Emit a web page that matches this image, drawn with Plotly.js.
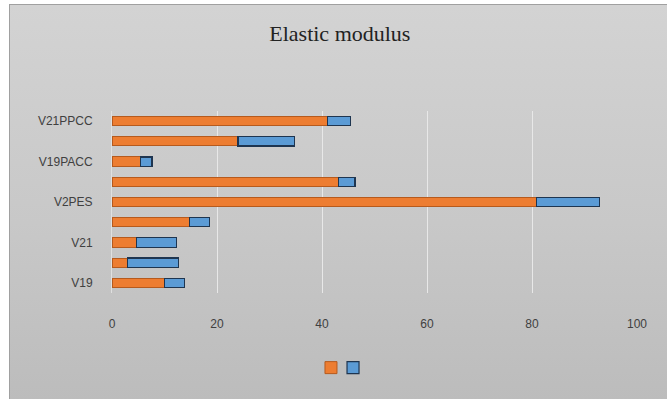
<!DOCTYPE html>
<html>
<head>
<meta charset="utf-8">
<script src="https://cdn.plot.ly/plotly-3.0.1.min.js"></script>
<style>
  html, body { margin: 0; padding: 0; background: #ffffff; }
  #frame {
    position: absolute; left: 9px; top: 4px; width: 658px; height: 395px;
    border-left: 1px solid #a0a0a0; border-top: 1px solid #a0a0a0;
    background: linear-gradient(#d3d3d3, #c8c8c8 55%, #bcbcbc);
  }
  #chart { position: absolute; left: 0; top: 0; width: 667px; height: 399px; }
</style>
</head>
<body>
<div id="frame"></div>
<div id="chart"></div>
<script>
// Samples, bottom to top
const categories = ["V19", "V20", "V21", "V22", "V2PES", "V3PES", "V19PACC", "V19PPCC", "V21PPCC"];
// Only every other category is labelled on the axis
const shownLabels = ["V19", "V21", "V2PES", "V19PACC", "V21PPCC"];
// Stacked components of the elastic modulus
const orangeValues = [10.0, 3.0, 4.7, 14.7, 80.9, 43.2, 5.5, 24.0, 41.1];
const blueValues   = [3.8, 9.6, 7.6, 3.8, 12.0, 3.1, 2.1, 10.7, 4.4];
const xTicks = [0, 20, 40, 60, 80, 100];

const tickFont = { family: "Liberation Sans, Arial, sans-serif", size: 12, color: "#404040" };

const traces = [
  {
    type: "bar", orientation: "h", name: " ", legend: "legend",
    y: categories, x: orangeValues,
    width: 0.46,
    marker: { color: "#ed7d31", line: { color: "#b65a1d", width: 1 } },
    hoverinfo: "x+y"
  },
  {
    type: "bar", orientation: "h", name: " ", legend: "legend2",
    y: categories, x: blueValues,
    width: 0.46,
    marker: { color: "#5b9bd5", line: { color: "#1e3550", width: 1.2 } },
    hoverinfo: "x+y"
  }
];

// one legend box per series so the two keys sit close together
const legendBase = {
  orientation: "h",
  xanchor: "left",
  y: -0.41, yanchor: "middle",
  bgcolor: "rgba(0,0,0,0)",
  itemwidth: 30,
  font: tickFont
};

const layout = {
  width: 667, height: 399,
  margin: { l: 112, r: 30, t: 111, b: 106 },
  paper_bgcolor: "rgba(0,0,0,0)",
  plot_bgcolor: "rgba(0,0,0,0)",
  barmode: "stack",
  title: {
    text: "Elastic modulus",
    font: { family: "Liberation Serif, Times New Roman, serif", size: 22, color: "#222222" },
    x: 0.434, xanchor: "center", xref: "paper",
    y: 1 - 33 / 399, yref: "container", yanchor: "middle"
  },
  xaxis: {
    range: [0, 100],
    tickvals: xTicks,
    ticktext: xTicks.map(String),
    showgrid: true, gridcolor: "#e8e8e8", gridwidth: 1,
    zeroline: false, showline: false,
    ticks: "", ticklabelstandoff: 22,
    tickfont: tickFont,
    fixedrange: true
  },
  yaxis: {
    type: "category",
    categoryorder: "array", categoryarray: categories,
    range: [-0.5, categories.length - 0.5],
    tickvals: shownLabels,
    ticktext: shownLabels,
    showgrid: false, zeroline: false,
    showline: true, linecolor: "#e0e0e0", linewidth: 1,
    ticks: "", ticklabelstandoff: 16,
    tickfont: tickFont,
    fixedrange: true
  },
  showlegend: true,
  legend: Object.assign({}, legendBase, { x: 0.379 }),
  legend2: Object.assign({}, legendBase, { x: 0.421 }),
  bargap: 0.5
};

Plotly.newPlot("chart", traces, layout, { displayModeBar: false, staticPlot: true });
</script>
</body>
</html>
